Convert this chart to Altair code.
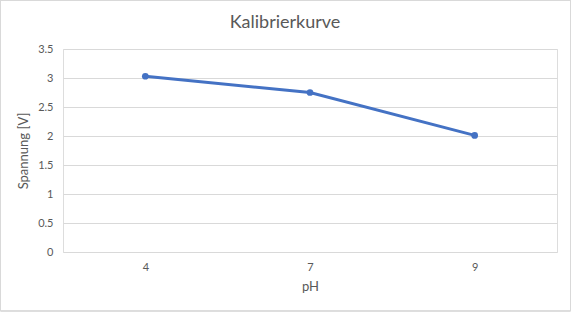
import altair as alt
import pandas as pd

ph_labels = ["4", "7", "9"]
spannung = [3.03, 2.75, 2.01]
title_text = ["Kalibrierkurve"]

df = pd.DataFrame({"pH": ph_labels, "Spannung": spannung})
tdf = pd.DataFrame({"t": title_text})

FONT = "Lato"
GRAY = "#595959"
BLUE = "#4472C4"

x = alt.X("pH:O", sort=ph_labels, scale=alt.Scale(type="point", padding=0.5),
          axis=alt.Axis(title="pH", labelAngle=0, domain=False, ticks=False,
                        labelPadding=9, titlePadding=8, labelColor=GRAY, titleColor=GRAY,
                        labelFont=FONT, titleFont=FONT, labelFontSize=11, titleFontSize=13,
                        titleFontWeight="normal", grid=False))
y = alt.Y("Spannung:Q", scale=alt.Scale(domain=[0, 3.5], nice=False),
          axis=alt.Axis(title="Spannung [V]", values=[0, 0.5, 1, 1.5, 2, 2.5, 3, 3.5],
                        format="~g", domain=False, ticks=False, labelPadding=10,
                        titlePadding=7, labelColor=GRAY, titleColor=GRAY,
                        labelFont=FONT, titleFont=FONT, labelFontSize=11, titleFontSize=13,
                        titleFontWeight="normal", gridColor="#d9d9d9", gridWidth=1))

line = alt.Chart(df).mark_line(color=BLUE, strokeWidth=3).encode(x=x, y=y)
pts = alt.Chart(df).mark_point(color=BLUE, filled=True, opacity=1, size=45).encode(x=x, y=y)

border = alt.Chart(df).mark_rect(fill=None, stroke="#d9d9d9", strokeWidth=1).encode(
    x=alt.value(-62.5), x2=alt.value(507.5), y=alt.value(-48.5), y2=alt.value(262))

title = alt.Chart(tdf).mark_text(font=FONT, fontSize=18, color=GRAY, align="center",
                                 baseline="alphabetic").encode(
    x=alt.value(222), y=alt.value(-21.5), text="t:N")

chart = alt.layer(border, line, pts, title).properties(
    width=494, height=203,
    autosize=alt.AutoSizeParams(type="none"),
    padding={"left": 63, "top": 49, "right": 14, "bottom": 60},
).configure_view(stroke=None).configure(background="white")

chart.save("out.html", embed_options={"renderer": "svg", "actions": False})
